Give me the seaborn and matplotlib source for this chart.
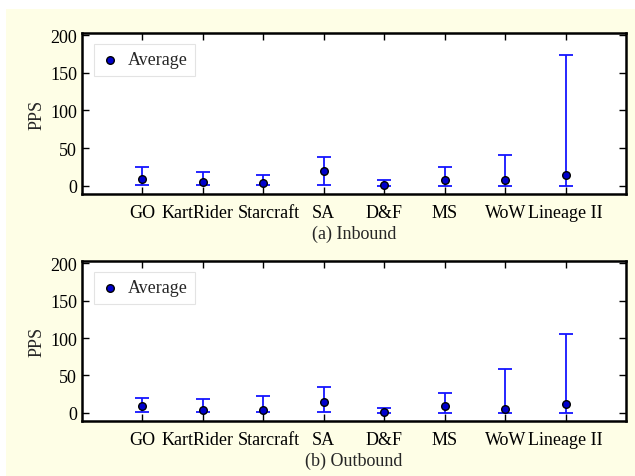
import numpy as np
import pandas as pd
import matplotlib
matplotlib.use("Agg")
import matplotlib.pyplot as plt
import matplotlib.transforms as mtransforms
import seaborn as sns
from matplotlib.patches import Rectangle

# dados (PPS)
jogos = ["GO", "KartRider", "Starcraft", "SA", "D&F", "MS", "WoW", "Lineage II"]

in_media = [8.8, 5.7, 4.0, 19.5, 1.3, 7.5, 7.5, 13.7]
in_min = [1.3, 1.3, 1.3, 1.3, 0.0, 0.0, 0.0, 0.0]
in_max = [24.3, 18.6, 13.7, 37.6, 7.5, 25.6, 41.0, 173.0]

out_media = [9.8, 3.5, 3.5, 14.6, 1.3, 8.9, 5.3, 11.5]
out_min = [1.0, 1.0, 1.0, 1.0, 0.0, 0.0, 0.0, 0.0]
out_max = [20.4, 19.0, 22.2, 34.0, 6.6, 27.0, 58.5, 105.0]

# pequeno deslocamento horizontal dos rotulos (em pontos) para nao sobrepor
desloc = {"KartRider": -4, "Starcraft": 4}

sns.set_theme(style="ticks")
plt.rcParams["font.family"] = ["Liberation Serif", "DejaVu Serif"]
plt.rcParams["font.size"] = 13
plt.rcParams["xtick.direction"] = "in"
plt.rcParams["ytick.direction"] = "in"

fig = plt.figure(figsize=(6.35, 4.77), dpi=100)
fig.patch.set_facecolor("white")
fig.patches.append(Rectangle((6 / 635, 0), 1, 1 - 10 / 477, transform=fig.transFigure,
                             facecolor="#FEFEE6", edgecolor="none", zorder=-10))

paineis = [
    ([0.129, 0.591, 0.857, 0.338], in_media, in_min, in_max, "(a) Inbound"),
    ([0.129, 0.115, 0.857, 0.336], out_media, out_min, out_max, "(b) Outbound"),
]

for pos, media, vmin, vmax, titulo in paineis:
    ax = fig.add_axes(pos)
    df = pd.DataFrame({"Jogo": jogos, "Media": media, "Min": vmin, "Max": vmax})
    erro = [df["Media"] - df["Min"], df["Max"] - df["Media"]]
    ax.errorbar(df["Jogo"], df["Media"], yerr=erro, fmt="none", ecolor="#1515FF",
                elinewidth=1.3, capsize=5, capthick=1.3, zorder=2)
    sns.scatterplot(data=df, x="Jogo", y="Media", ax=ax, s=30, color="#0000CC",
                    edgecolor="black", linewidth=1.0, label="Average", zorder=3)
    ax.set_xlim(-1, 8)
    ax.set_ylim(-11, 203)
    ax.set_yticks([0, 50, 100, 150, 200])
    ax.tick_params(top=True, right=True, length=5, width=1, labelsize=13, colors="black")
    ax.tick_params(axis="x", pad=7)
    for s in ax.spines.values():
        s.set_linewidth(1.8)
        s.set_color("black")
    ax.set_xlabel(titulo, fontsize=13, labelpad=3)
    ax.set_ylabel("PPS", fontsize=13, labelpad=3)
    for lab in ax.get_xticklabels():
        dx = desloc.get(lab.get_text(), 0)
        if dx:
            lab.set_transform(lab.get_transform() +
                              mtransforms.ScaledTranslation(dx / 72, 0, fig.dpi_scale_trans))
    leg = ax.legend(loc="upper left", fontsize=13, frameon=True, fancybox=False,
                    handlelength=1.0, handletextpad=0.5, borderpad=0.4,
                    borderaxespad=0.0, bbox_to_anchor=(0.022, 0.93))
    leg.get_frame().set_edgecolor("#DDDDDD")
    leg.get_frame().set_linewidth(0.8)

fig.savefig("out.png", dpi=100)
